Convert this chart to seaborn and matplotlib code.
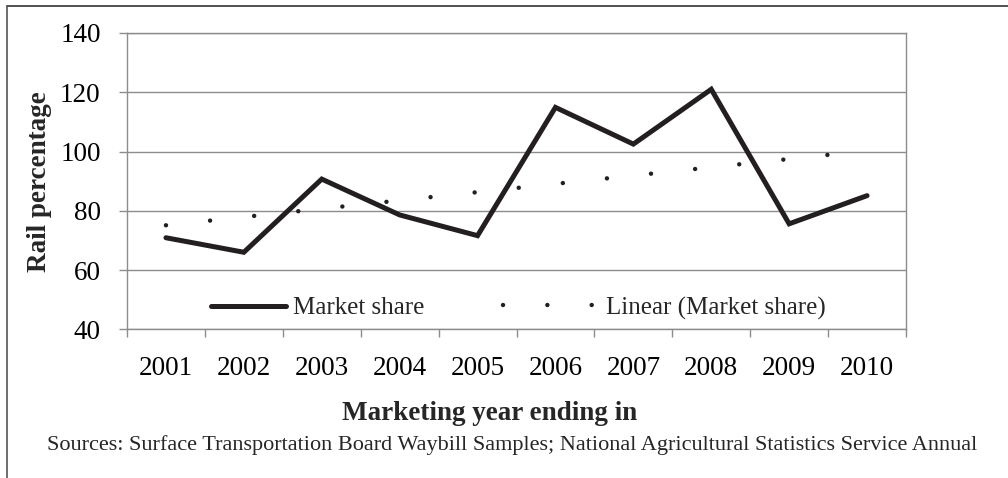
import numpy as np
import pandas as pd
import matplotlib
matplotlib.use("Agg")
import matplotlib.pyplot as plt
from matplotlib.lines import Line2D
import seaborn as sns

years = ["2001", "2002", "2003", "2004", "2005", "2006", "2007", "2008", "2009", "2010"]
market_share = [70.9, 66.0, 90.7, 78.6, 71.6, 114.9, 102.5, 121.0, 75.6, 85.1]
y_ticks = [40, 60, 80, 100, 120, 140]
series_label = "Market share"
trend_label = "Linear (Market share)"
y_title = "Rail percentage"
x_title = "Marketing year ending in"
source_text = ("Sources: Surface Transportation Board Waybill Samples; "
               "National Agricultural Statistics Service Annual")

df = pd.DataFrame({"pos": np.arange(len(years)), "year": years, "share": market_share})

sns.set_style("white")
plt.rcParams["font.family"] = ["Liberation Serif", "DejaVu Serif"]

W, H = 1008, 478
fig = plt.figure(figsize=(W / 100, H / 100), dpi=100)
ax_w = (906 - 127)
ax_h = (329.3 - 33)
ax = fig.add_axes([127 / W, 1 - 329.3 / H, ax_w / W, ax_h / H])

grid_c = "#8c8c8c"
line_c = "#231f20"
dot_lw = 3.2
dot_style = (0, (0.01, 44.3 / (dot_lw * 100 / 72)))

sns.lineplot(data=df, x="pos", y="share", ax=ax, color=line_c, linewidth=3.6,
             label=series_label, solid_joinstyle="miter", solid_capstyle="round",
             legend=False)
sns.regplot(data=df, x="pos", y="share", ax=ax, scatter=False, ci=None, truncate=True,
            label=trend_label,
            line_kws=dict(color=line_c, linewidth=dot_lw, linestyle=dot_style,
                          dash_capstyle="round"))

ax.set_xlim(-0.5, len(years) - 0.5)
ax.set_ylim(y_ticks[0], y_ticks[-1])
ax.set_yticks(y_ticks)
ax.set_xticks(df["pos"], years)
ax.set_xticks(np.arange(-0.5, len(years), 1.0), minor=True)

ax.grid(False)
ax.yaxis.grid(True, color=grid_c, linewidth=1.0)
ax.set_axisbelow(True)
for s in ax.spines.values():
    s.set_visible(True)
    s.set_color(grid_c)
    s.set_linewidth(1.0)

ax.tick_params(axis="x", which="major", length=0, pad=19, labelsize=19.5, colors="black")
ax.tick_params(axis="x", which="minor", length=6, width=1.0, color=grid_c, direction="out",
               bottom=True)
ax.tick_params(axis="y", which="major", length=6, width=1.0, color=grid_c, direction="out",
               pad=13, labelsize=19.5, left=True, labelcolor="black")

ax.set_xlabel(x_title, fontsize=19.5, fontweight="bold")
ax.xaxis.set_label_coords((490 - 127) / ax_w, (329.3 - 414) / ax_h)
ax.xaxis.label.set_verticalalignment("center")
ax.set_ylabel(y_title, fontsize=19.5, fontweight="bold", va="center", ha="center")
ax.yaxis.set_label_coords((40 - 127) / ax_w, 0.5)

main_line = ax.lines[0]
trend_line = ax.lines[1]
leg_y = (329.3 - 308) / ax_h
leg1 = ax.legend([main_line], [series_label], loc="center left",
                 bbox_to_anchor=((211 - 127) / ax_w, leg_y), frameon=False, fontsize=18,
                 handlelength=3.0, handletextpad=0.28, borderpad=0, borderaxespad=0)
ax.add_artist(leg1)
ax.legend([trend_line], [trend_label], loc="center left",
          bbox_to_anchor=((503 - 127) / ax_w, leg_y), frameon=False, fontsize=18,
          handlelength=3.84, handletextpad=0.28, borderpad=0, borderaxespad=0)

fig.text(512 / W, 1 - 445 / H, source_text, ha="center", va="center", fontsize=16)

fig.add_artist(Line2D([7 / W, 1], [1 - 6 / H, 1 - 6 / H], transform=fig.transFigure,
                      color="#333333", linewidth=1.2))
fig.add_artist(Line2D([7 / W, 7 / W], [0, 1 - 6 / H], transform=fig.transFigure,
                      color="#555555", linewidth=1.2))

fig.savefig("out.png", dpi=100, facecolor="white")
